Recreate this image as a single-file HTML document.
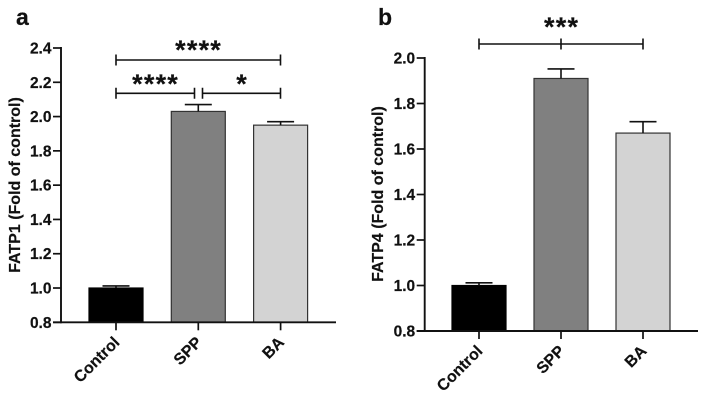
<!DOCTYPE html>
<html lang="en">
<head>
<meta charset="utf-8">
<title>FATP1 and FATP4 bar charts</title>
<style>
html,body{margin:0;padding:0;background:#fff;}
svg{display:block;}
text{font-family:"Liberation Sans",Arial,sans-serif;font-weight:bold;fill:#111;stroke:#111;stroke-width:0.2px;}
</style>
</head>
<body>
<svg id="figure" width="707" height="401" viewBox="0 0 707 401" xmlns="http://www.w3.org/2000/svg"></svg>
<script>
const categories = ['Control', 'SPP', 'BA'];
const barColors = ['#000000', '#808080', '#d3d3d3'];

const fatp1Values = [1.0, 2.03, 1.95];
const fatp1Errors = [0.012, 0.04, 0.02];
const fatp1Ticks = [0.8, 1.0, 1.2, 1.4, 1.6, 1.8, 2.0, 2.2, 2.4];
const fatp1Title = 'FATP1 (Fold of control)';

const fatp4Values = [1.0, 1.91, 1.67];
const fatp4Errors = [0.012, 0.042, 0.05];
const fatp4Ticks = [0.8, 1.0, 1.2, 1.4, 1.6, 1.8, 2.0];
const fatp4Title = 'FATP4 (Fold of control)';

const svg = document.getElementById('figure');
const NS = 'http://www.w3.org/2000/svg';

function make(tag, attrs, parent) {
  const el = document.createElementNS(NS, tag);
  for (const k in attrs) el.setAttribute(k, attrs[k]);
  parent.appendChild(el);
  return el;
}

function drawPanel(cfg) {
  const g = make('g', {}, svg);
  
  

  const vMin = cfg.ticks[0];
  const vMax = cfg.ticks[cfg.ticks.length - 1];
  const y = v => cfg.yBottom + (v - vMin) / (vMax - vMin) * (cfg.yTop - cfg.yBottom);
  const x = i => cfg.xFirst + i * cfg.xStep;
  const barW = 54;

  const letter = make('text', {x: cfg.letterX, y: 25, 'font-size': 23}, g);
  letter.textContent = cfg.letter;
  
  

  categories.forEach((c, i) => {
    const val = cfg.values[i];
    const err = cfg.errors[i];
    const bar = make('rect', {
      x: x(i) - barW / 2, y: y(val), width: barW, height: y(vMin) - y(val),
      fill: barColors[i], stroke: i === 0 ? '#000' : '#333', 'stroke-width': 1.2
    }, g);
    
    

    const eb = make('path', {
      d: 'M' + x(i) + ' ' + y(val) + 'V' + y(val + err) +
         'M' + (x(i) - 13.5) + ' ' + y(val + err) + 'H' + (x(i) + 13.5),
      fill: 'none', stroke: '#111', 'stroke-width': 1.6
    }, g);
    
    
  });

  const yAxis = make('line', {x1: cfg.xAxis, x2: cfg.xAxis, y1: y(vMax) - 1, y2: y(vMin) + 1, stroke: '#111', 'stroke-width': 1.9}, g);
  
  

  const xAxis = make('line', {x1: cfg.xAxis - 8, x2: cfg.xEnd, y1: y(vMin), y2: y(vMin), stroke: '#111', 'stroke-width': 1.9}, g);
  
  

  cfg.ticks.forEach(t => {
    const tick = make('line', {x1: cfg.xAxis - 8, x2: cfg.xAxis, y1: y(t), y2: y(t), stroke: '#111', 'stroke-width': 1.7}, g);
    
    

    const lab = make('text', {x: cfg.xAxis - 9.5, y: y(t) + 5.5, 'font-size': 15.5, 'text-anchor': 'end'}, g);
    lab.textContent = t.toFixed(1);
    
    
  });

  categories.forEach((c, i) => {
    const tick = make('line', {x1: x(i), x2: x(i), y1: y(vMin), y2: y(vMin) + 8, stroke: '#111', 'stroke-width': 1.7}, g);
    
    

    const lx = x(i) + 4.5;
    const ly = y(vMin) + 21;
    const lab = make('text', {x: lx, y: ly, 'font-size': 16, 'text-anchor': 'end', transform: 'rotate(-45 ' + lx + ' ' + ly + ')'}, g);
    lab.textContent = c;
    
    
  });

  const title = make('text', {
    x: cfg.titleX, y: cfg.titleY, 'font-size': 16, 'text-anchor': 'middle',
    transform: 'rotate(-90 ' + cfg.titleX + ' ' + cfg.titleY + ')'
  }, g);
  title.textContent = cfg.title;
  
  

  cfg.brackets.forEach(b => {
    let d = 'M' + b.from + ' ' + b.y + 'H' + b.to;
    b.caps.forEach(cx => { d += 'M' + cx + ' ' + (b.y - 5.5) + 'V' + (b.y + 5.5); });
    const br = make('path', {d: d, fill: 'none', stroke: '#111', 'stroke-width': 1.6}, g);
    
    

    const s = make('text', {x: b.starX + 0.6, y: b.starY, 'font-size': 27, 'letter-spacing': 1.2, 'text-anchor': 'middle'}, g);
    s.textContent = b.stars;
    
    
  });
}

drawPanel({
  name: 'panel-a', letter: 'a', letterX: 16,
  values: fatp1Values, errors: fatp1Errors, ticks: fatp1Ticks, title: fatp1Title,
  yTop: 48, yBottom: 322.3, xAxis: 61, xEnd: 336, xFirst: 116, xStep: 82.3,
  titleX: 20, titleY: 185,
  brackets: [
    {from: 116, to: 280.5, y: 60, caps: [116, 280.5], stars: '****', starX: 198, starY: 59},
    {from: 116, to: 194.5, y: 93.3, caps: [116, 194.5], stars: '****', starX: 155, starY: 93},
    {from: 202.5, to: 280.5, y: 93.3, caps: [202.5, 280.5], stars: '*', starX: 241.5, starY: 93}
  ]
});

drawPanel({
  name: 'panel-b', letter: 'b', letterX: 378,
  values: fatp4Values, errors: fatp4Errors, ticks: fatp4Ticks, title: fatp4Title,
  yTop: 58, yBottom: 331, xAxis: 424.7, xEnd: 698, xFirst: 479, xStep: 82,
  titleX: 383, titleY: 194,
  brackets: [
    {from: 479, to: 643, y: 44, caps: [479, 561, 643], stars: '***', starX: 561, starY: 36}
  ]
});
</script>
</body>
</html>
